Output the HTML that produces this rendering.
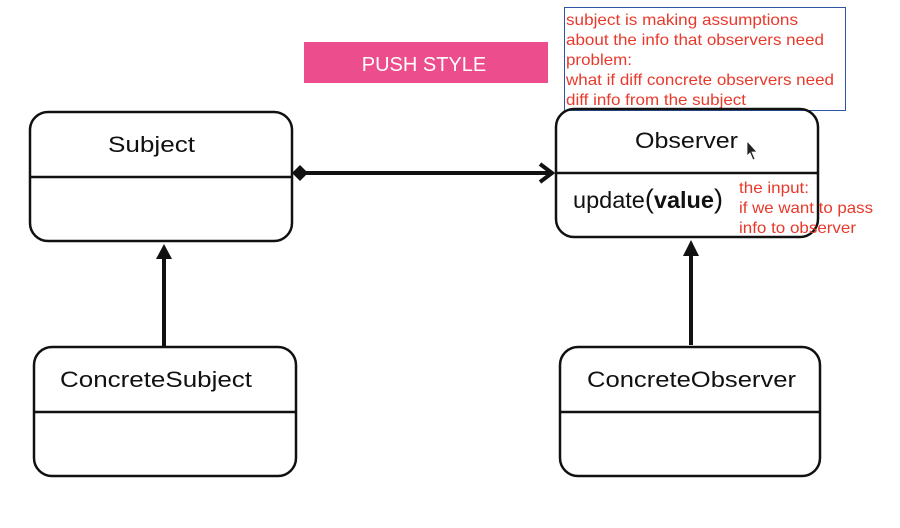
<!DOCTYPE html>
<html><head><meta charset="utf-8"><style>
html,body{margin:0;padding:0;background:#fff;}
svg{display:block;}
.t{font-family:"Liberation Sans",sans-serif;fill:#111;}
.r{font-family:"Liberation Sans",sans-serif;fill:#e8392b;font-size:16px;}
</style></head><body>
<svg width="900" height="528" viewBox="0 0 900 528" xmlns="http://www.w3.org/2000/svg">
<rect width="900" height="528" fill="#fff"/>
<rect x="304" y="42" width="244" height="41" fill="#ec4d8c"/>
<text x="424" y="71" text-anchor="middle" font-family="Liberation Sans,sans-serif" font-size="20" fill="#fff">PUSH STYLE</text>
<rect x="564.5" y="7.5" width="281" height="103" fill="#fff" stroke="#2e55a5" stroke-width="1"/>
<text class="r" x="566" y="25" textLength="232" lengthAdjust="spacingAndGlyphs">subject is making assumptions</text>
<text class="r" x="566" y="45" textLength="258" lengthAdjust="spacingAndGlyphs">about the info that observers need</text>
<text class="r" x="566" y="65" textLength="66" lengthAdjust="spacingAndGlyphs">problem:</text>
<text class="r" x="566" y="85" textLength="268" lengthAdjust="spacingAndGlyphs">what if diff concrete observers need</text>
<text class="r" x="566" y="105" textLength="180" lengthAdjust="spacingAndGlyphs">diff info from the subject</text>
<g fill="none" stroke="#111" stroke-width="2.5">
<rect x="30" y="112" width="262" height="129" rx="18"/>
<line x1="30" y1="177" x2="292" y2="177"/>
<rect x="556" y="109" width="262" height="128" rx="18"/>
<line x1="556" y1="173" x2="818" y2="173"/>
<rect x="34" y="347" width="262" height="129" rx="18"/>
<line x1="34" y1="412" x2="296" y2="412"/>
<rect x="560" y="347" width="260" height="129" rx="18"/>
<line x1="560" y1="412" x2="820" y2="412"/>
</g>
<text class="t" x="108" y="152" font-size="22" textLength="87" lengthAdjust="spacingAndGlyphs">Subject</text>
<text class="t" x="635" y="148" font-size="22" textLength="103" lengthAdjust="spacingAndGlyphs">Observer</text>
<text class="t" x="573" y="208" font-size="23.5">update<tspan font-size="27">(</tspan><tspan font-weight="bold">value</tspan><tspan font-size="27">)</tspan></text>
<text class="t" x="60" y="387" font-size="22" textLength="192" lengthAdjust="spacingAndGlyphs">ConcreteSubject</text>
<text class="t" x="587" y="387" font-size="22" textLength="209" lengthAdjust="spacingAndGlyphs">ConcreteObserver</text>
<path d="M747 141 L747 156 L750 153 L753 160 L755 159 L752 152 L757 152 Z" fill="#222" stroke="#fff" stroke-width="0.8"/>
<text class="r" x="739" y="193" textLength="70" lengthAdjust="spacingAndGlyphs">the input:</text>
<text class="r" x="739" y="213" textLength="134" lengthAdjust="spacingAndGlyphs">if we want to pass</text>
<text class="r" x="739" y="233" textLength="117" lengthAdjust="spacingAndGlyphs">info to observer</text>
<line x1="306" y1="173" x2="552" y2="173" stroke="#111" stroke-width="4"/>
<path d="M292 173 L300 165 L308 173 L300 181 Z" fill="#111"/>
<polyline points="540,164 552,173 540,182" fill="none" stroke="#111" stroke-width="4"/>
<line x1="164" y1="347" x2="164" y2="258" stroke="#111" stroke-width="4"/>
<path d="M164 244 L172 259 L156 259 Z" fill="#111"/>
<line x1="691" y1="345" x2="691" y2="254" stroke="#111" stroke-width="4"/>
<path d="M691 240 L699 256 L683 256 Z" fill="#111"/>
</svg>
</body></html>
